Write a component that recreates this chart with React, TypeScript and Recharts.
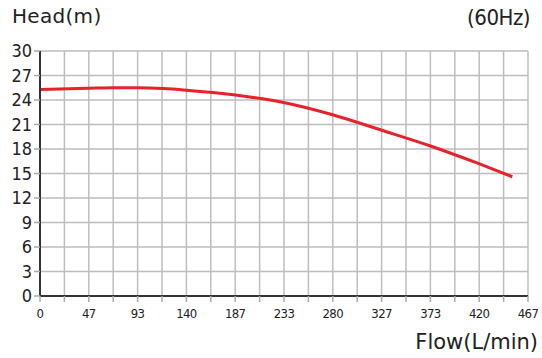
import { LineChart, Line, XAxis, YAxis, CartesianGrid } from "recharts";

// pump curve
const flow = [0, 47, 70, 93, 118, 140, 187, 233, 280, 327, 373, 420, 452];
const head = [25.3, 25.45, 25.5, 25.5, 25.4, 25.2, 24.6, 23.7, 22.2, 20.3, 18.4, 16.2, 14.6];

const xTickLabels = ["0", "47", "93", "140", "187", "233", "280", "327", "373", "420", "467"];
const xGridTicks = Array.from({ length: 21 }, (_, i) => (467 / 20) * i);
const yTicks = [0, 3, 6, 9, 12, 15, 18, 21, 24, 27, 30];

const data = flow.map((f, i) => ({ flow: f, head: head[i] }));

const narrow = '"Liberation Sans Narrow", "DejaVu Sans Condensed", sans-serif';
const wide = '"DejaVu Sans", sans-serif';

export default function App() {
  return (
    <div style={{ position: "fixed", left: 0, top: 0, width: 542, height: 358, background: "#fff" }}>
      <div style={{ position: "absolute", left: 12, top: 4, fontFamily: wide, fontSize: 20, color: "#222", letterSpacing: 0.3 }}>
        Head(m)
      </div>
      <div style={{ position: "absolute", right: 12, top: 5, fontFamily: narrow, fontSize: 22, color: "#222", letterSpacing: -0.5 }}>
        (60Hz)
      </div>
      <div style={{ position: "absolute", right: 4, top: 330, fontFamily: wide, fontSize: 21, color: "#222" }}>
        Flow(L/min)
      </div>
      <LineChart width={542} height={358} data={data} margin={{ top: 51, right: 14, bottom: 0, left: 0 }}>
        <CartesianGrid stroke="#bdbdbd" strokeWidth={1.5} />
        <XAxis
          dataKey="flow"
          type="number"
          domain={[0, 467]}
          ticks={xGridTicks}
          interval={0}
          height={62}
          tickFormatter={(_v, i) => (i % 2 === 0 ? xTickLabels[i / 2] : "")}
          tick={{ fill: "#222", fontSize: 13, fontFamily: narrow, letterSpacing: -0.6 }}
          tickLine={{ stroke: "#aaa", strokeWidth: 1.5 }}
          tickSize={6}
          tickMargin={7}
          axisLine={{ stroke: "#333", strokeWidth: 2 }}
        />
        <YAxis
          type="number"
          domain={[0, 30]}
          ticks={yTicks}
          interval={0}
          width={40}
          tick={{ fill: "#222", fontSize: 18, fontFamily: narrow }}
          tickLine={{ stroke: "#aaa", strokeWidth: 1.5 }}
          tickSize={6}
          tickMargin={2}
          axisLine={{ stroke: "#333", strokeWidth: 2 }}
        />
        <Line
          dataKey="head"
          type="monotone"
          stroke="#e8212b"
          strokeWidth={3}
          dot={false}
          isAnimationActive={false}
        />
      </LineChart>
    </div>
  );
}
